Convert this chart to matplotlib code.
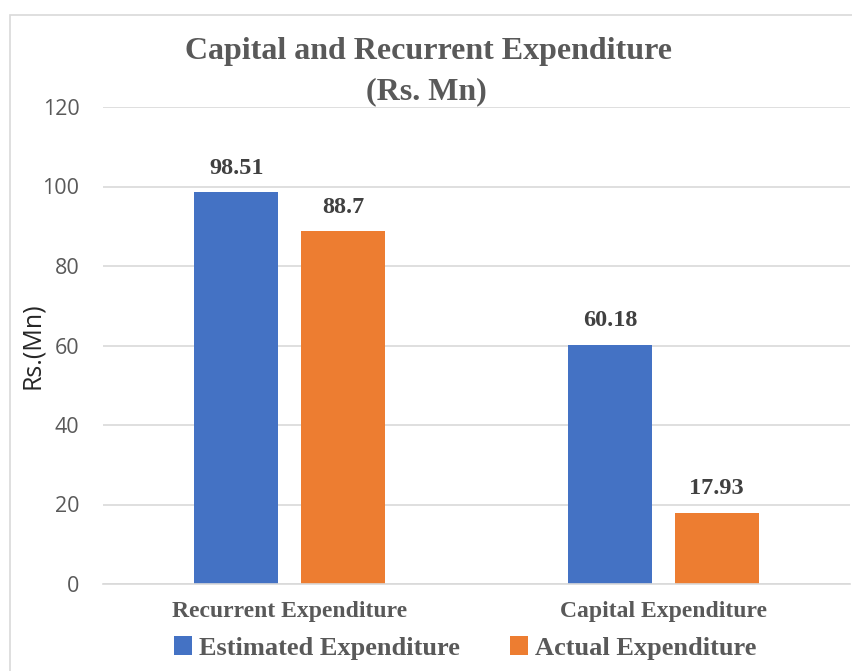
import matplotlib
matplotlib.use("Agg")
import matplotlib.pyplot as plt
from matplotlib.patches import Rectangle
import numpy as np

categories = ["Recurrent Expenditure", "Capital Expenditure"]
estimated = [98.51, 60.18]
actual = [88.7, 17.93]
series_names = ["Estimated Expenditure", "Actual Expenditure"]
yticks = [0, 20, 40, 60, 80, 100, 120]

blue = "#4472C4"
orange = "#ED7D31"
grey = "#595959"
serif = "Liberation Serif"

fig = plt.figure(figsize=(8.52, 6.71), dpi=100)
fig.patch.set_facecolor("white")

# outer chart border (runs off the right/bottom edge as in the picture)
fig.patches.append(Rectangle((10 / 852, -0.05), 1.1, 1 - 15 / 671 + 0.05,
                             transform=fig.transFigure, fill=False,
                             edgecolor="#D9D9D9", linewidth=1.2))

ax = fig.add_axes([103 / 852, 1 - 584 / 671, 747 / 852, 477 / 671])
x = np.arange(len(categories))
w = 0.225
off = 0.143
b1 = ax.bar(x - off, estimated, w, color=blue, label=series_names[0])
b2 = ax.bar(x + off, actual, w, color=orange, label=series_names[1])

for bars, vals in ((b1, estimated), (b2, actual)):
    for r, v in zip(bars, vals):
        ax.annotate(f"{v:g}", (r.get_x() + r.get_width() / 2, v),
                    xytext=(0, 10), textcoords="offset points",
                    ha="center", va="bottom", family=serif,
                    fontweight="bold", fontsize=17.5, color="#404040")

ax.set_xlim(-0.5, 1.5)
ax.set_ylim(0, 120)
ax.set_yticks(yticks, labels=[str(t) for t in yticks], fontsize=15.5,
              family="Open Sans", color=grey)
ax.yaxis.grid(True, color="#D9D9D9", linewidth=1.2)
ax.set_axisbelow(True)
for s in ["top", "right", "left"]:
    ax.spines[s].set_visible(False)
ax.spines["bottom"].set_color("#D9D9D9")
ax.spines["bottom"].set_linewidth(1.2)
ax.tick_params(axis="y", length=0, pad=17)
ax.tick_params(axis="x", length=0, pad=12)
ax.set_xticks(x)
ax.set_xticklabels(categories, family=serif, fontweight="bold",
                   fontsize=17, color=grey)
ax.set_ylabel("Rs.(Mn)", fontsize=18, color="#262626", family="Open Sans")
ax.yaxis.set_label_coords(-0.078, 0.5)

fig.text(0.503, 1 - 51 / 671, "Capital and Recurrent Expenditure",
         ha="center", va="center", family=serif, fontweight="bold",
         fontsize=23, color=grey)
fig.text(0.5, 1 - 92 / 671, "(Rs. Mn)",
         ha="center", va="center", family=serif, fontweight="bold",
         fontsize=23, color=grey)

fig.legend(handles=[b1, b2], loc="center", bbox_to_anchor=(0.546, 1 - 648 / 671),
           ncol=2, frameon=False,
           prop={"family": serif, "weight": "bold", "size": 19},
           labelcolor=grey, handlelength=0.7, handleheight=0.7,
           handletextpad=0.25, columnspacing=1.9)

fig.savefig("out.png", dpi=100)
